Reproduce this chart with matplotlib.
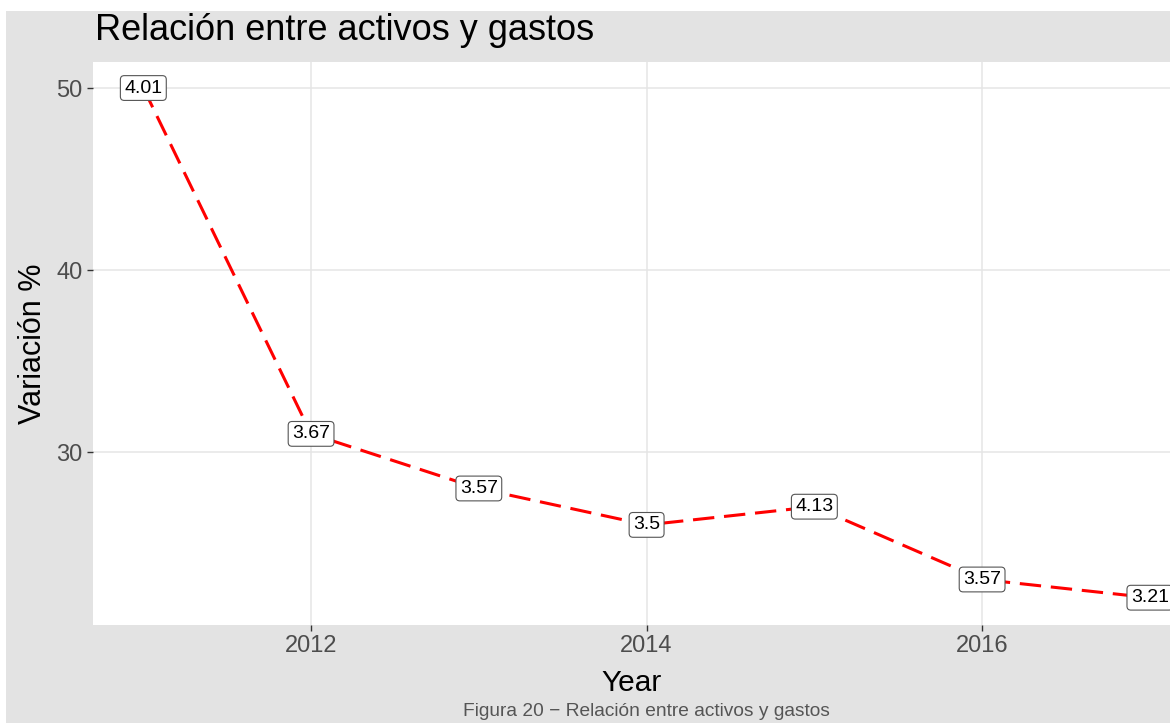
import matplotlib.pyplot as plt
from matplotlib.patches import Rectangle

years = [2011, 2012, 2013, 2014, 2015, 2016, 2017]
variacion = [50, 31, 28, 26, 27, 23, 22]
etiquetas = ["4.01", "3.67", "3.57", "3.5", "4.13", "3.57", "3.21"]

plt.rcParams['font.family'] = ['Liberation Sans', 'DejaVu Sans']

fig = plt.figure(figsize=(11.7, 7.23), dpi=100, facecolor='white')
# gray ggplot background (image is cropped, leaving a thin white strip top/left)
fig.patches.append(Rectangle((6 / 1170, 0), 1, 1 - 11 / 723, transform=fig.transFigure,
                             facecolor='#E3E3E3', edgecolor='none', zorder=-10))

ax = fig.add_axes([93 / 1170, 1 - 625 / 723, 1 - 93 / 1170, (625 - 62) / 723])
ax.set_facecolor('white')

ax.plot(years, variacion, color='#FF0000', lw=2.2, dashes=(7, 3.2), zorder=2)
for x, y, t in zip(years, variacion, etiquetas):
    ax.text(x, y, t, ha='center', va='center', fontsize=14, color='black', zorder=3,
            bbox=dict(boxstyle='round,pad=0.2,rounding_size=0.2', fc='white', ec='#555555', lw=0.8))

ax.set_xlim(2010.70, 2017.12)
ax.set_ylim(20.5, 51.43)
ax.set_xticks([2012, 2014, 2016])
ax.set_yticks([30, 40, 50])
ax.grid(True, color='#E5E5E5', lw=1.1)
ax.set_axisbelow(True)
for s in ax.spines.values():
    s.set_visible(False)
ax.tick_params(axis='both', colors='#333333', length=4, width=1, labelsize=17, labelcolor='#4D4D4D')

ax.set_xlabel('Year', fontsize=21.5, labelpad=8)
ax.set_ylabel('Variación %', fontsize=22, labelpad=6)

fig.text(95 / 1170, 1 - 30 / 723, 'Relación entre activos y gastos', fontsize=26, ha='left', va='center')
fig.text(646 / 1170, 1 - 712 / 723, 'Figura 20 \u2212 Relación entre activos y gastos',
         fontsize=13.8, color='#555555', ha='center', va='center')

fig.savefig('out.png', dpi=100, facecolor=fig.get_facecolor())
